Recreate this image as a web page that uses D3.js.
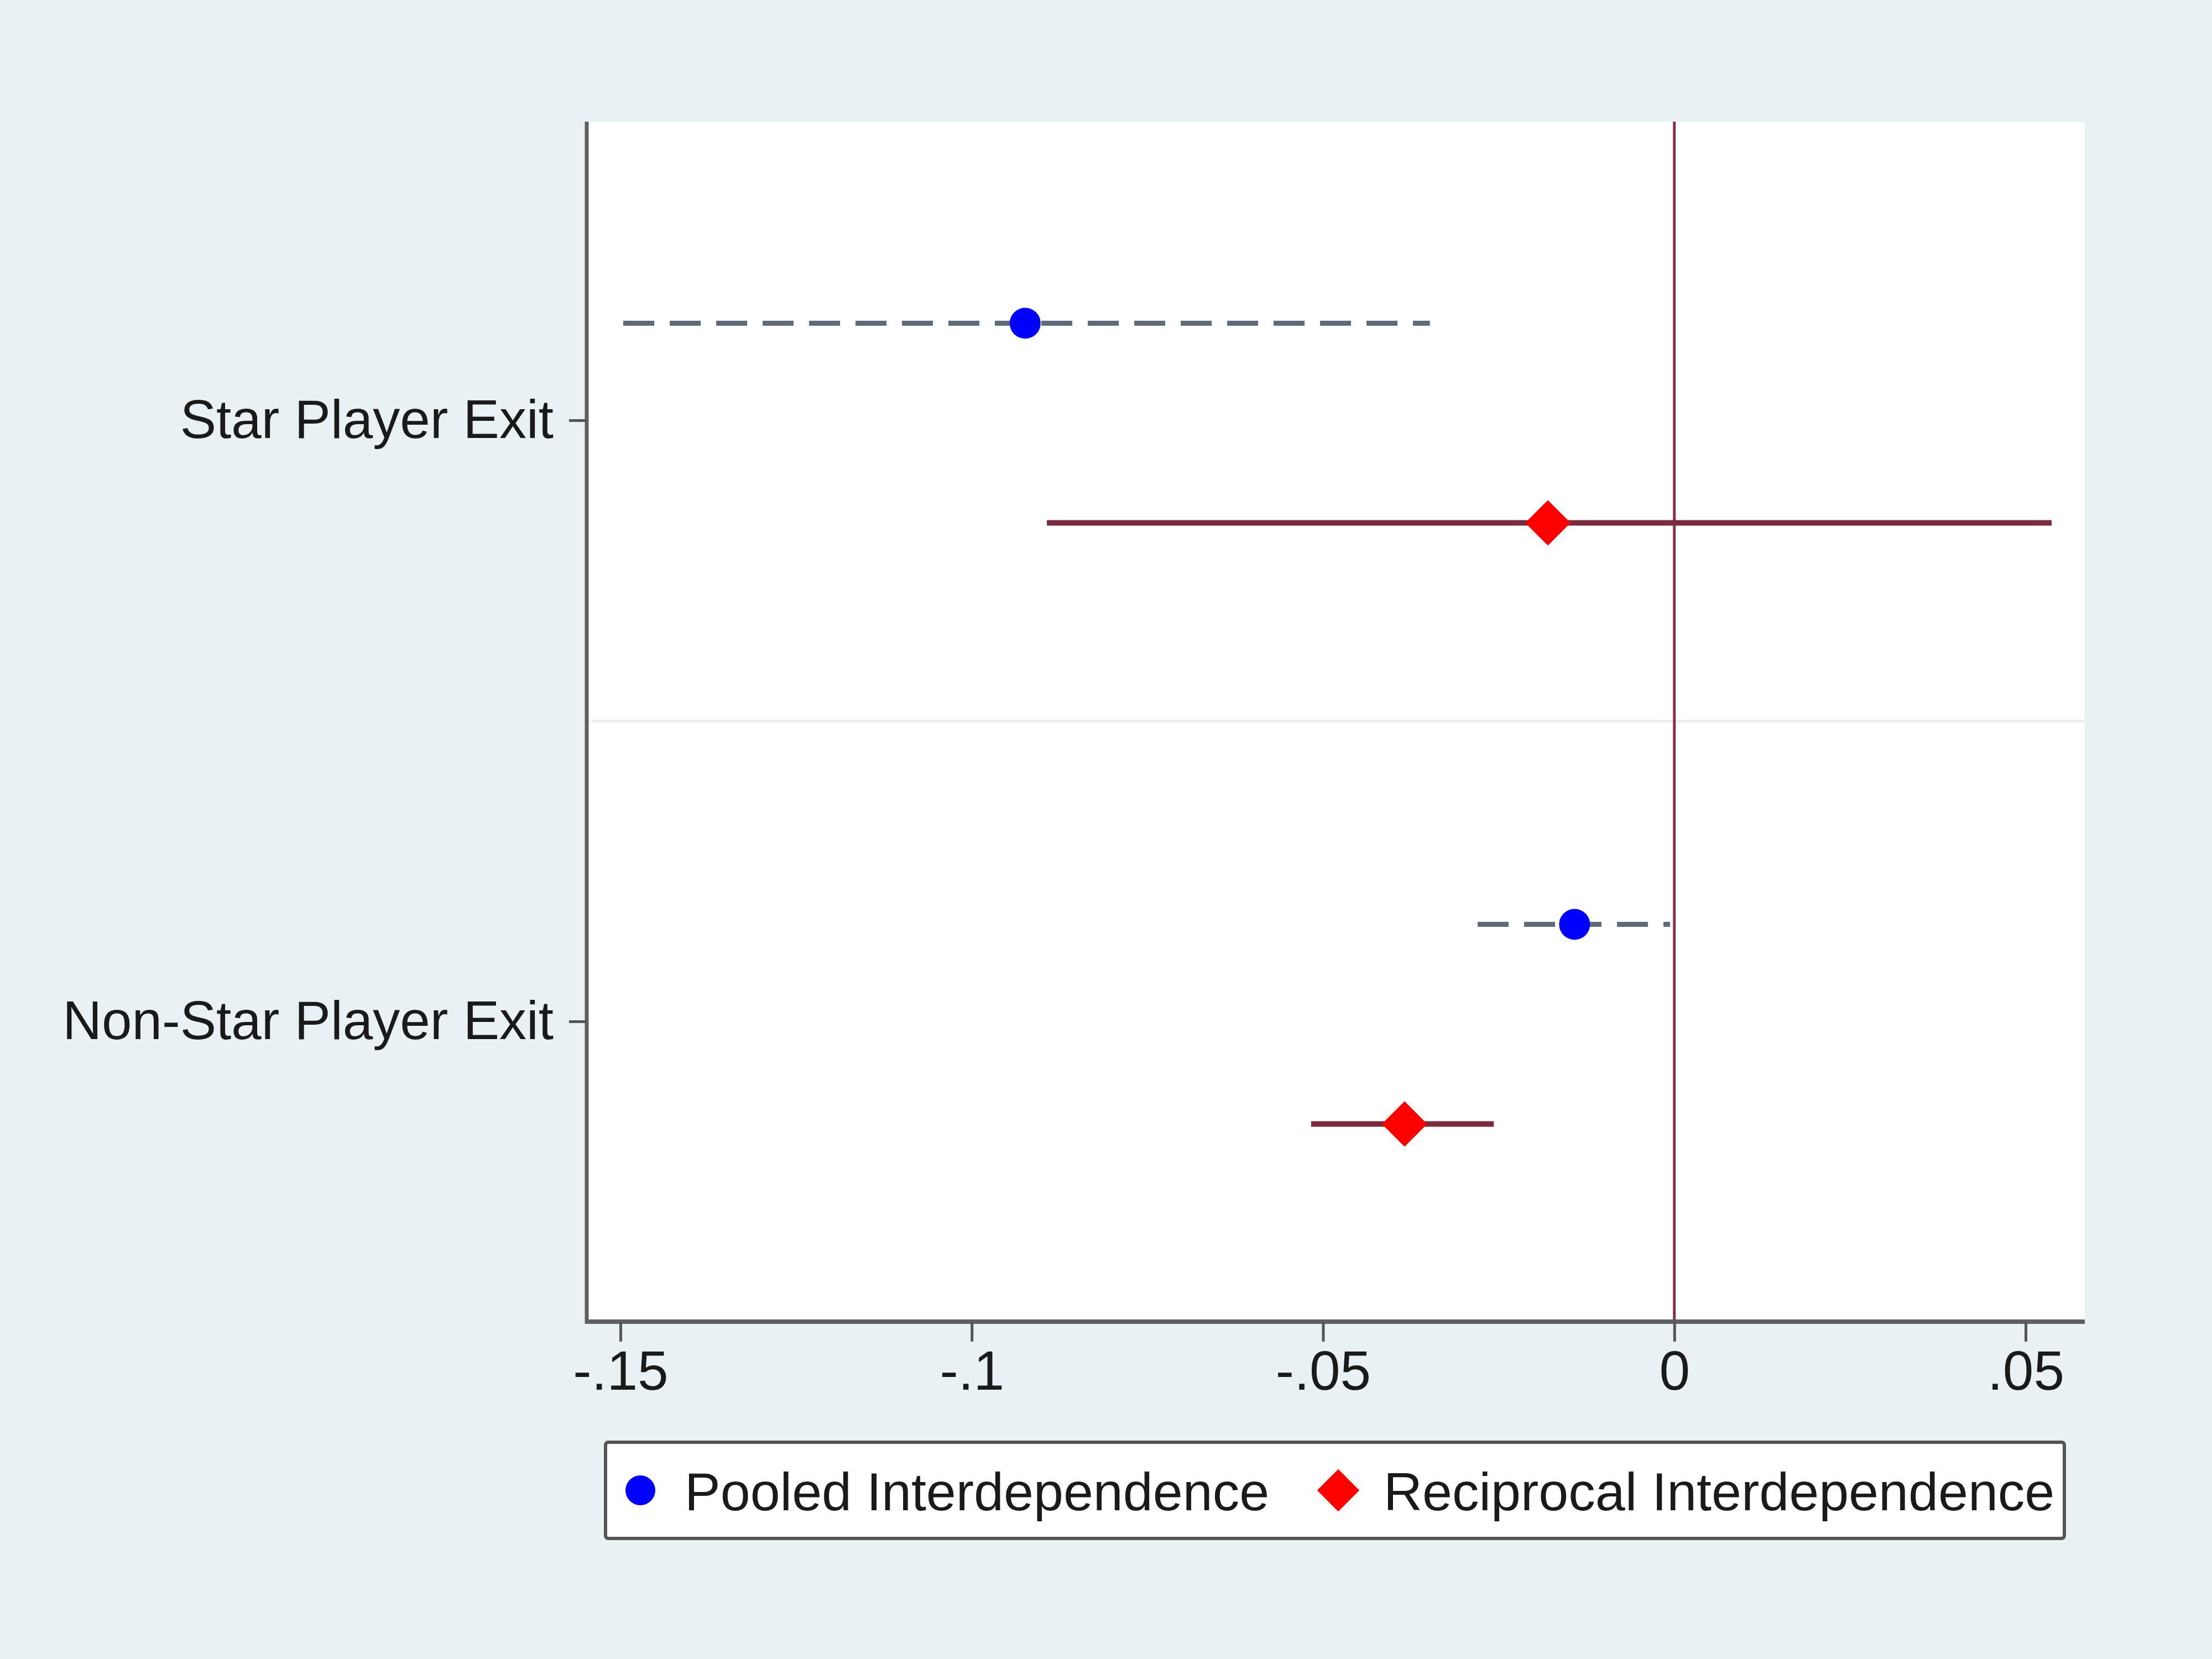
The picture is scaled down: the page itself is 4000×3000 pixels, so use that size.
<!DOCTYPE html>
<html>
<head>
<meta charset="utf-8">
<script src="https://cdn.jsdelivr.net/npm/d3@7"></script>
<style>
  html, body { margin: 0; padding: 0; background: #EAF1F4; }
  svg { display: block; }
</style>
</head>
<body>
<script>
// ---- data ----
const categories = ["Star Player Exit", "Non-Star Player Exit"];
const series = ["Pooled Interdependence", "Reciprocal Interdependence"];
const pooledEst = [-0.0924, -0.0142];
const pooledLo  = [-0.1496, -0.0280];
const pooledHi  = [-0.0348, -0.0006];
const recipEst  = [-0.0180, -0.0384];
const recipLo   = [-0.0893, -0.0517];
const recipHi   = [ 0.0537, -0.0257];
const xTicks = [-0.15, -0.1, -0.05, 0, 0.05];
const xTickLabels = ["-.15", "-.1", "-.05", "0", ".05"];

// ---- layout ----
const W = 4000, H = 3000;
const plotL = 1061, plotR = 3770, plotT = 220, plotB = 2390;
const font = "'Liberation Sans', Arial, Helvetica, sans-serif";

const svg = d3.select("body").append("svg").attr("width", W).attr("height", H);
svg.append("rect").attr("width", W).attr("height", H).attr("fill", "#EAF1F4");

const x = d3.scaleLinear().domain([-0.15, 0.05]).range([1122, 3663]);
const y = d3.scaleBand().domain(categories).range([217, 2391]).padding(0);
const sub = d3.scalePoint().domain(series).range([-176, 185]);
const color = d3.scaleOrdinal().domain(series).range(["#0000FF", "#FF0000"]);
const ciColor = d3.scaleOrdinal().domain(series).range(["#5E6C7A", "#7B2B3F"]);

// plot region
svg.append("rect").attr("x", plotL).attr("y", plotT)
  .attr("width", plotR - plotL).attr("height", plotB - plotT).attr("fill", "#FFFFFF");

// separator between categories
svg.append("line")
  .attr("x1", plotL + 8).attr("x2", plotR)
  .attr("y1", y(categories[1])).attr("y2", y(categories[1]))
  .attr("stroke", "#EFEFEF").attr("stroke-width", 5);

// zero reference line
svg.append("line")
  .attr("x1", x(0)).attr("x2", x(0)).attr("y1", plotT).attr("y2", plotB)
  .attr("stroke", "#8A2E4C").attr("stroke-width", 5);

// build rows
const rows = [];
categories.forEach((c, i) => {
  rows.push({cat: c, s: series[0], est: pooledEst[i], lo: pooledLo[i], hi: pooledHi[i]});
  rows.push({cat: c, s: series[1], est: recipEst[i], lo: recipLo[i], hi: recipHi[i]});
});
const yPos = d => y(d.cat) + y.bandwidth() / 2 + sub(d.s);

// CI lines
svg.append("g").selectAll("line").data(rows).join("line")
  .attr("x1", d => x(d.lo)).attr("x2", d => x(d.hi))
  .attr("y1", yPos).attr("y2", yPos)
  .attr("stroke", d => ciColor(d.s))
  .attr("stroke-width", d => d.s === series[0] ? 9 : 10)
  .attr("stroke-dasharray", d => d.s === series[0] ? "56 28" : null);

// markers
const circleSym = d3.symbol().type(d3.symbolCircle).size(Math.PI * 28 * 28);
const diamondSym = d3.symbol().type(d3.symbolSquare).size(58 * 58);
svg.append("g").selectAll("path").data(rows).join("path")
  .attr("d", d => d.s === series[0] ? circleSym() : diamondSym())
  .attr("transform", d => `translate(${x(d.est)},${yPos(d)})` + (d.s === series[0] ? "" : " rotate(45)"))
  .attr("fill", d => color(d.s));

// x axis
svg.append("line").attr("x1", plotL - 3).attr("x2", plotR).attr("y1", plotB).attr("y2", plotB)
  .attr("stroke", "#5F5F5F").attr("stroke-width", 8);
const xAxis = svg.append("g").attr("transform", `translate(0,${plotB})`)
  .call(d3.axisBottom(x).tickValues(xTicks)
    .tickFormat((d, i) => xTickLabels[i]).tickSize(36).tickPadding(16).tickSizeOuter(0));
xAxis.select(".domain").remove();
xAxis.selectAll(".tick line").attr("stroke", "#555").attr("stroke-width", 5);
xAxis.selectAll(".tick text").attr("fill", "#1a1a1a")
  .style("font-family", font).style("font-size", "100px");

// y axis
svg.append("line").attr("x1", plotL).attr("x2", plotL).attr("y1", plotT).attr("y2", plotB + 3)
  .attr("stroke", "#5F5F5F").attr("stroke-width", 7);
const yAxis = svg.append("g").attr("transform", `translate(${plotL},0)`)
  .call(d3.axisLeft(y).tickSize(32).tickPadding(28).tickSizeOuter(0));
yAxis.select(".domain").remove();
yAxis.selectAll(".tick line").attr("stroke", "#555").attr("stroke-width", 5);
yAxis.selectAll(".tick text").attr("fill", "#1a1a1a")
  .style("font-family", font).style("font-size", "98px");

// legend
const lg = svg.append("g");
lg.append("rect").attr("x", 1095).attr("y", 2608).attr("width", 2638).attr("height", 174)
  .attr("rx", 5).attr("fill", "#FFFFFF").attr("stroke", "#555").attr("stroke-width", 6);
const legendItems = [
  {s: series[0], mx: 1158, tx: 1238},
  {s: series[1], mx: 2420, tx: 2502}
];
const legCircle = d3.symbol().type(d3.symbolCircle).size(Math.PI * 27 * 27);
const legDiamond = d3.symbol().type(d3.symbolSquare).size(54 * 54);
lg.selectAll("path").data(legendItems).join("path")
  .attr("d", d => d.s === series[0] ? legCircle() : legDiamond())
  .attr("transform", d => `translate(${d.mx},2695)` + (d.s === series[0] ? "" : " rotate(45)"))
  .attr("fill", d => color(d.s));
lg.selectAll("text").data(legendItems).join("text")
  .attr("x", d => d.tx).attr("y", 2731)
  .attr("fill", "#1a1a1a")
  .style("font-family", font).style("font-size", "97px")
  .text(d => d.s);
</script>
</body>
</html>
